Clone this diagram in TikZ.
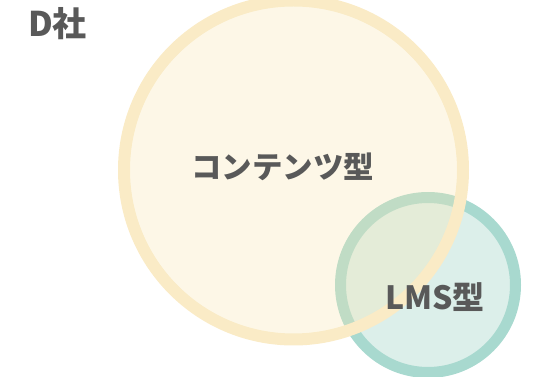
\documentclass[tikz,border=0pt]{standalone}
\usepackage{fontspec}
\setmainfont{Noto Sans CJK JP}
\definecolor{contentline}{HTML}{FAEBC6}
\definecolor{contentfill}{HTML}{F9E6B0}
\definecolor{lmsline}{HTML}{A8D9CF}
\definecolor{lmsfill}{HTML}{DCEFEA}
\definecolor{labelgray}{HTML}{595959}
\tikzset{
    setcircle/.style={circle, inner sep=0pt},
    setlabel/.style={text=labelgray, font=\bfseries, inner sep=0pt}
}
\begin{document}
\begin{tikzpicture}[x=1pt, y=1pt]
    \useasboundingbox (0, 0) rectangle (533, 377);
    \clip (0, 0) rectangle (533, 377);

    \node[setcircle, draw=lmsline, fill=lmsfill, line width=11pt, minimum size=175pt] (lms) at (428, 92) {};
    \node[setcircle, draw=contentline, fill=contentfill, fill opacity=0.3, line width=12pt, minimum size=339pt] (content) at (293.5, 207) {};

    \node[setlabel, font=\fontsize{34}{36}\selectfont\bfseries] (company) at (57.5, 353) {D社};
    \node[setlabel, font=\fontsize{30.5}{32}\selectfont\bfseries] (contentlabel) at (282.5, 210) {コンテンツ型};
    \node[setlabel, font=\fontsize{32}{34}\selectfont\bfseries] (lmslabel) at (435, 80) {LMS型};
\end{tikzpicture}
\end{document}
